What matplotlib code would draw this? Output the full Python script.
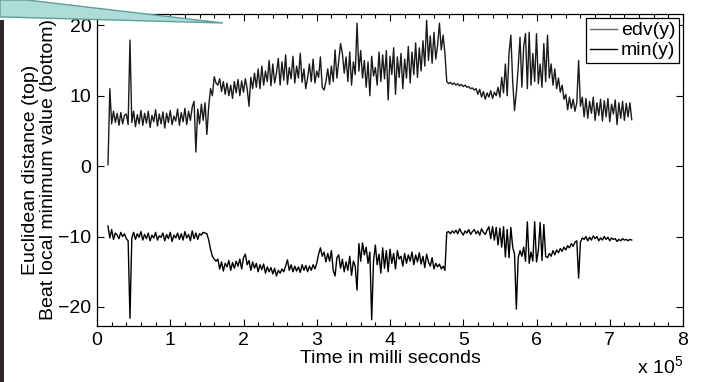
import numpy as np
import matplotlib
matplotlib.use("Agg")
import matplotlib.pyplot as plt
from matplotlib.patches import Polygon, Rectangle
from matplotlib.ticker import MultipleLocator

plt.rcParams['font.family'] = ['Liberation Sans', 'DejaVu Sans']
plt.rcParams['mathtext.fontset'] = 'custom'
plt.rcParams['mathtext.rm'] = 'Liberation Sans'

# sampling: first sample at 15000 ms, one every 2500 ms
t_start = 15000
t_step = 2500

# Euclidean distance (top curve)
edv = [
    0.2, 11.0, 6.0, 7.8, 6.2, 7.5, 5.8, 7.6, 6.0, 7.2,
    7.4, 5.9, 17.9, 6.2, 7.8, 5.6, 7.3, 6.0, 7.9, 5.8,
    7.5, 6.1, 7.8, 5.5, 7.2, 6.3, 8.0, 5.7, 7.4, 6.0,
    7.7, 5.4, 7.5, 6.2, 7.9, 5.9, 7.1, 6.4, 8.1, 5.8,
    7.6, 6.3, 8.2, 5.9, 7.8, 6.5, 8.4, 9.2, 2.0, 8.1,
    6.0, 8.8, 6.5, 9.0, 4.5, 8.5, 11.0, 10.0, 12.7, 11.8,
    11.5, 12.4, 10.6, 12.0, 10.2, 11.8, 10.0, 11.5, 9.6, 12.0,
    10.4, 12.3, 10.0, 12.1, 10.5, 12.4, 11.0, 8.5, 12.6, 11.0,
    13.2, 11.2, 13.8, 11.0, 14.2, 11.5, 13.5, 12.0, 15.0, 11.4,
    14.5, 11.8, 13.2, 15.3, 11.5, 14.8, 12.2, 15.8, 11.6, 14.0,
    12.4, 15.6, 11.8, 14.2, 12.5, 16.0, 11.9, 13.8, 11.0, 12.5,
    14.5, 12.0, 15.2, 11.8, 13.5, 12.6, 15.5, 11.2, 10.8, 12.0,
    13.8, 11.6, 14.2, 12.0, 16.5, 12.5, 15.0, 17.4, 16.0, 13.2,
    15.5, 12.0, 16.2, 11.5, 14.8, 13.0, 20.3, 13.5, 16.4, 12.5,
    15.0, 11.2, 14.8, 10.0, 15.6, 12.8, 14.0, 11.5, 16.2, 12.0,
    15.8, 12.4, 16.4, 9.4, 15.6, 13.0, 16.8, 10.2, 15.5, 12.6,
    16.0, 11.0, 15.2, 12.5, 17.0, 11.8, 16.2, 13.0, 17.5, 12.6,
    16.8, 13.5, 17.8, 14.2, 20.7, 15.0, 18.5, 14.6, 19.0, 15.2,
    17.2, 20.3, 16.5, 18.6, 16.0, 12.0, 11.7, 11.9, 11.6, 11.8,
    11.5, 11.7, 11.4, 11.6, 11.3, 11.5, 11.2, 11.3, 11.0, 11.1,
    10.8, 11.0, 10.2, 10.9, 9.8, 10.6, 9.5, 10.4, 9.8, 10.7,
    9.6, 10.5, 10.0, 11.2, 9.8, 12.6, 10.4, 14.5, 10.0, 16.0,
    18.6, 12.0, 7.9, 10.5, 14.0, 18.3, 11.2, 17.0, 18.8, 11.0,
    19.0, 11.5, 16.0, 12.0, 18.8, 11.7, 14.5, 11.2, 17.4, 12.0,
    18.6, 12.5, 14.5, 11.5, 13.8, 11.0, 12.5, 10.5, 11.5, 9.5,
    10.2, 8.0, 9.8, 8.2, 9.5, 7.8, 9.0, 15.0, 8.5, 9.8,
    7.0, 9.6, 6.8, 9.2, 7.5, 9.8, 6.5, 9.0, 7.2, 9.5,
    6.4, 9.3, 7.0, 9.6, 6.3, 8.8, 7.4, 9.4, 5.9, 9.0,
    6.8, 9.2, 6.5, 8.9, 7.0, 9.0, 6.6,
]

# Beat local minimum value (bottom curve)
min_y = [
    -8.5, -10.2, -9.0, -10.4, -9.5, -9.8, -10.3, -9.4, -10.0, -9.6,
    -10.3, -10.6, -21.6, -10.2, -9.4, -10.4, -9.6, -10.1, -9.3, -10.5,
    -9.7, -10.3, -9.5, -10.6, -9.8, -10.2, -9.4, -10.5, -9.9, -10.1,
    -9.5, -10.6, -9.7, -10.3, -9.4, -10.7, -9.8, -10.2, -9.5, -10.4,
    -9.6, -10.5, -9.3, -10.2, -9.7, -10.6, -9.2, -10.3, -9.5, -10.4,
    -9.6, -9.8, -9.4, -9.5, -9.6, -10.5, -11.8, -12.8, -13.2, -13.5,
    -13.2, -14.6, -13.6, -14.9, -13.8, -14.3, -13.4, -14.8, -13.7, -14.5,
    -13.5, -14.2, -13.2, -14.6, -13.0, -12.5, -14.0, -13.4, -14.8, -13.6,
    -14.5, -13.8, -15.0, -14.0, -14.7, -13.9, -15.2, -14.3, -15.0, -14.4,
    -15.3, -14.5, -15.6, -14.8, -15.2, -14.6, -15.0, -14.2, -13.3, -14.8,
    -14.0, -15.0, -14.2, -14.9, -14.3, -15.1, -14.0, -14.8, -14.1, -15.0,
    -14.2, -14.8, -14.0, -14.6, -13.8, -12.5, -11.6, -12.8, -12.2, -13.6,
    -12.4, -13.5, -12.0, -14.8, -15.6, -13.0, -12.6, -14.5, -13.2, -15.0,
    -13.6, -14.8, -12.8, -15.5, -13.5, -14.2, -17.6, -11.0, -13.5, -10.9,
    -12.6, -11.5, -13.8, -12.2, -21.8, -13.5, -11.2, -14.0, -12.5, -15.2,
    -11.6, -14.5, -12.0, -15.0, -11.8, -13.8, -12.4, -14.6, -12.0, -13.2,
    -12.8, -14.2, -12.4, -13.8, -12.6, -13.5, -12.2, -14.0, -12.6, -13.6,
    -12.3, -13.9, -12.8, -14.4, -12.5, -13.6, -14.2, -13.0, -14.6, -13.8,
    -14.3, -13.9, -14.6, -14.2, -14.8, -9.4, -9.3, -9.6, -9.2, -9.5,
    -9.1, -9.6, -8.9, -9.4, -9.8, -9.2, -9.5, -9.0, -9.7, -9.3,
    -9.0, -9.6, -9.2, -9.8, -8.9, -9.4, -9.7, -9.1, -8.6, -10.3,
    -8.6, -10.5, -8.7, -11.2, -8.8, -11.5, -8.6, -12.9, -9.0, -13.0,
    -8.7, -11.5, -12.5, -20.3, -13.0, -12.0, -12.8, -11.5, -13.5, -7.9,
    -13.8, -12.2, -13.5, -7.9, -13.6, -12.0, -8.0, -13.4, -8.3, -12.8,
    -13.0, -12.4, -12.8, -12.0, -12.6, -11.9, -12.3, -11.7, -12.1, -11.5,
    -11.9, -11.3, -11.6, -11.0, -11.4, -10.8, -10.6, -15.9, -10.8, -10.2,
    -10.4, -10.0, -10.6, -10.1, -10.5, -9.9, -10.3, -10.0, -10.6, -10.2,
    -10.5, -10.0, -10.4, -10.1, -10.6, -10.2, -10.4, -10.3, -10.7, -10.4,
    -10.6, -10.3, -10.5, -10.4, -10.6, -10.4, -10.5,
]

time_ms = t_start + t_step * np.arange(len(edv))

xtick_vals = [0, 1, 2, 3, 4, 5, 6, 7, 8]
ytick_vals = [-20, -10, 0, 10, 20]

W, H = 705, 382
fig = plt.figure(figsize=(W / 100, H / 100), dpi=100)
ax = fig.add_axes([97 / W, 1 - 326 / H, (683 - 97) / W, (326 - 14) / H])

ax.plot(time_ms, edv, color='#1a1a1a', lw=1.0, label='edv(y)')
ax.plot(time_ms, min_y, color='black', lw=1.0, label='min(y)')

ax.set_xlim(0, 8e5)
ax.set_ylim(-22.7, 21.6)
ax.set_xticks([v * 1e5 for v in xtick_vals])
ax.set_xticklabels([str(v) for v in xtick_vals])
ax.set_yticks(ytick_vals)
ax.set_yticklabels([str(v).replace('-', '\u2212') for v in ytick_vals])
ax.xaxis.set_minor_locator(MultipleLocator(2e4))
ax.tick_params(which='both', direction='in', top=True, right=True,
               labelsize=14, width=0.8)
ax.tick_params(which='major', length=5, pad=4)
ax.tick_params(which='minor', length=3)
for s in ax.spines.values():
    s.set_linewidth(0.9)

ax.set_xlabel('Time in milli seconds', fontsize=14, labelpad=1)
ax.set_ylabel('Euclidean distance (top)\nBeat local minimum value (bottom)',
              fontsize=14, linespacing=1.1)
ax.yaxis.set_label_coords(-0.068, 0.5)
ax.text(1.0, -0.095, r'x 10$^{5}$', transform=ax.transAxes,
        ha='right', va='top', fontsize=14)

leg = ax.legend(loc='upper right', fontsize=14, frameon=True, fancybox=False,
                edgecolor='black', framealpha=1, borderpad=0.2,
                labelspacing=0.12, handlelength=1.4, handletextpad=0.2,
                borderaxespad=0.2)
leg.get_frame().set_linewidth(0.9)
leg.get_lines()[0].set_color('#666666')

# slide decorations: dark bar on the left and teal callout at the top
def fpt(x, y):
    return (x / W, 1 - y / H)

fig.add_artist(Rectangle(fpt(0, H), 4 / W, (H - 20) / H, transform=fig.transFigure,
                         facecolor='#2e2626', edgecolor='none'))
callout = [fpt(0, 0), fpt(27, 0), fpt(223, 23), fpt(4, 17), fpt(0, 17)]
fig.add_artist(Polygon(callout, closed=True, transform=fig.transFigure,
                       facecolor='#aedcd6', edgecolor='#5d9f99', lw=1.0))

fig.savefig('out.png', dpi=100)
